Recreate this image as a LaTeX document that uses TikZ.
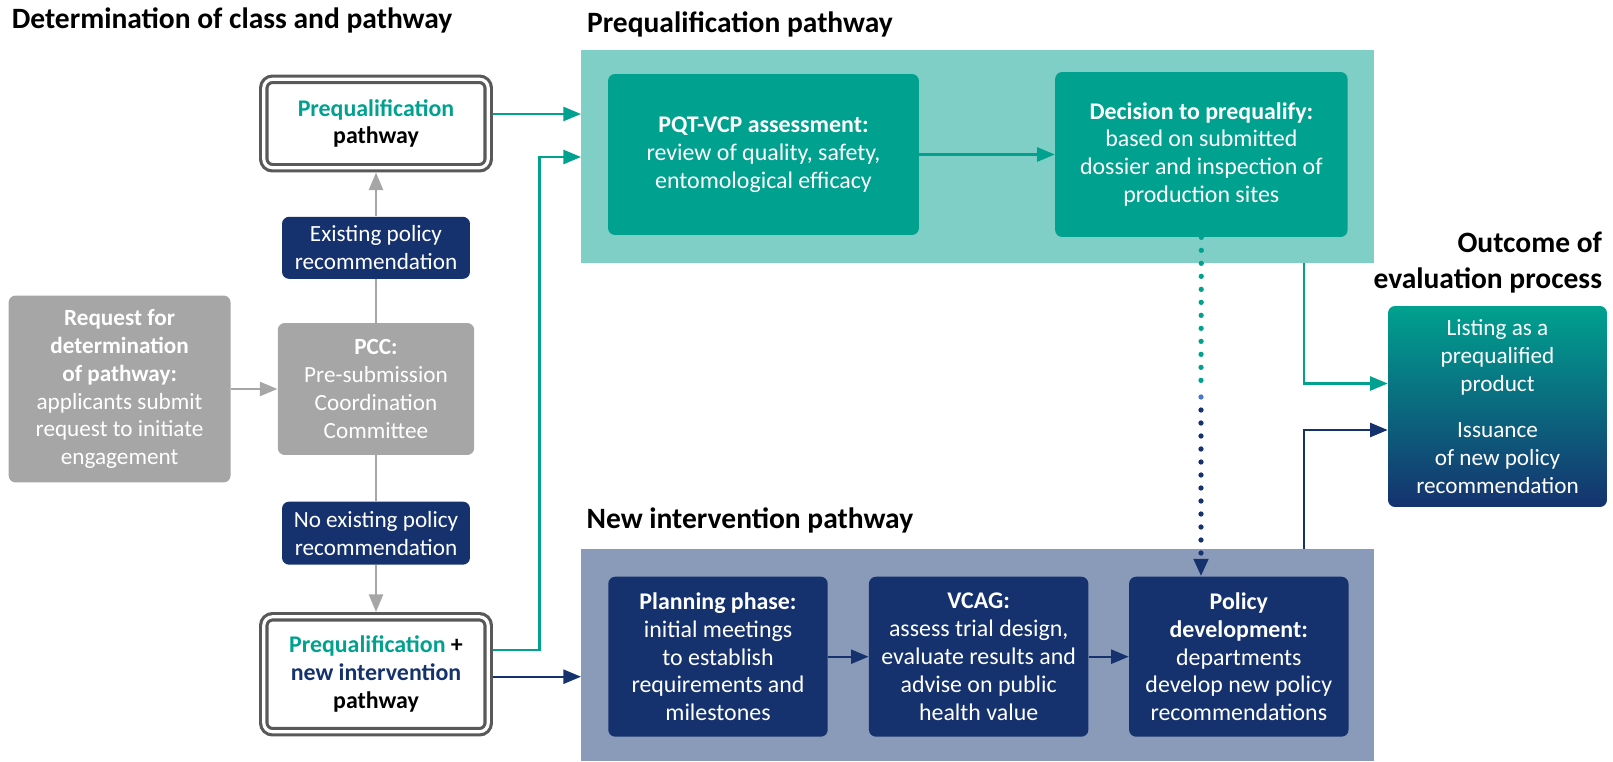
\documentclass[tikz,border=0pt]{standalone}
\usepackage{fontspec}
\setmainfont{Carlito}
\usetikzlibrary{arrows.meta,positioning}
\definecolor{tealdark}{RGB}{0,161,143}
\definecolor{teallight}{RGB}{128,207,198}
\definecolor{navy}{RGB}{21,50,111}
\definecolor{navylight}{RGB}{138,154,185}
\definecolor{midblue}{RGB}{74,120,200}
\definecolor{boxgray}{RGB}{166,166,166}
\definecolor{framegray}{RGB}{89,89,89}

\begin{document}
\begin{tikzpicture}[x=0.02cm,y=-0.02cm,node distance=1cm,
 txt/.style={align=center,font=\fontsize{13.2}{15.9}\selectfont,inner sep=0pt},
 flowbox/.style={txt,rounded corners=4pt,text=white},
 graybox/.style={flowbox,fill=boxgray},
 navybox/.style={flowbox,fill=navy},
 tealbox/.style={flowbox,fill=tealdark},
 stepbox/.style={flowbox,font=\fontsize{13.6}{15.9}\selectfont},
 pathframe/.style={txt,font=\fontsize{13.6}{15.9}\selectfont\bfseries,draw=framegray,line width=1.8pt,
   double=white,double distance=1.8pt,rounded corners=5pt,outer sep=2.7pt,minimum width=4.49cm},
 title/.style={font=\fontsize{16.8}{20.2}\selectfont\bfseries,inner sep=0pt},
 arr/.style={-{Triangle[length=10pt,width=8pt]}},
 rarr/.style={{Triangle[length=10pt,width=8pt]}-},
 grayline/.style={draw=boxgray,line width=1.3pt},
 tealline/.style={draw=tealdark,line width=1.3pt},
 navyline/.style={draw=navy,line width=1.3pt},
 dotline/.style={line width=3pt,line cap=round,dash pattern=on 0pt off 7.4pt}]
 \useasboundingbox (0,0) rectangle (1613,761);

 \node[title,anchor=base west] (t1) at (11.5,28) {Determination of class and pathway};

 \node[graybox,minimum width=3.93cm,minimum height=2.64cm] (pcc) at (376,389)
     {\textbf{PCC:}\\Pre-submission\\Coordination\\Committee};
 \node[graybox,minimum width=4.44cm,minimum height=3.74cm,left=0.93cm of pcc] (req)
     {\textbf{Request for}\\\textbf{determination}\\\textbf{of pathway:}\\applicants submit\\request to initiate\\engagement}
     edge[grayline,arr] (pcc);
 \node[navybox,minimum width=3.76cm,minimum height=1.24cm,above=0.87cm of pcc] (exist)
     {Existing policy\\recommendation}
     edge[grayline] (pcc);
 \node[pathframe,minimum height=1.77cm,above=0.88cm of exist] (pq)
     {\textcolor{tealdark}{Prequalification}\\pathway}
     edge[grayline,rarr] (exist);
 \node[navybox,minimum width=3.76cm,minimum height=1.26cm,below=0.92cm of pcc] (noexist)
     {No existing policy\\recommendation}
     edge[grayline] (pcc);
 \node[pathframe,minimum height=2.3cm,below=0.94cm of noexist] (pqni)
     {\textcolor{tealdark}{Prequalification} +\\\textcolor{navy}{new intervention}\\pathway}
     edge[grayline,rarr] (noexist);

 \node[fill=teallight,minimum width=15.86cm,minimum height=4.26cm] (pqbg) at (977.5,156.5) {};
 \node[title,above right=0.25cm and 0.12cm of pqbg.north west] (t2) {Prequalification pathway};
 \node[stepbox,fill=tealdark,minimum width=6.22cm,minimum height=3.22cm] (pqt) at (763.5,154.5)
     {\textbf{PQT-VCP assessment:}\\review of quality, safety,\\entomological efficacy};
 \node[stepbox,fill=tealdark,minimum width=5.85cm,minimum height=3.3cm,right=2.71cm of pqt] (dec)
     {\textbf{Decision to prequalify:}\\based on submitted\\dossier and inspection of\\production sites}
     edge[tealline,rarr] (pqt);

 \node[fill=navylight,minimum width=15.86cm,minimum height=4.24cm] (nibg) at (977.5,655) {};
 \node[title,above right=0.3cm and 0.11cm of nibg.north west] (t3) {New intervention pathway};
 \node[stepbox,fill=navy,minimum width=4.39cm,minimum height=3.2cm] (plan) at (718,656.7)
     {\textbf{Planning phase:}\\initial meetings\\to establish\\requirements and\\milestones};
 \node[stepbox,fill=navy,minimum width=4.39cm,minimum height=3.2cm,right=0.81cm of plan] (vcag)
     {\textbf{VCAG:}\\assess trial design,\\evaluate results and\\advise on public\\health value}
     edge[navyline,rarr] (plan);
 \node[stepbox,fill=navy,minimum width=4.39cm,minimum height=3.2cm,right=0.8cm of vcag] (pol)
     {\textbf{Policy}\\\textbf{development:}\\departments\\develop new policy\\recommendations}
     edge[navyline,rarr] (vcag);

 \node[flowbox,top color=tealdark,bottom color=navy,minimum width=4.38cm,minimum height=4.02cm] (outc) at (1497.5,406.5)
     {Listing as a\\prequalified\\product\\[0.35cm]Issuance\\of new policy\\recommendation};
 \node[title,align=right,above left=0.25cm and 0.1cm of outc.north east] (t4) {Outcome of\\evaluation process};

 \coordinate (in1) at (581,114);
 \coordinate (in2) at (581,157);
 \coordinate (in3) at (581,676.7);
 \draw[tealline,arr] (pq.east |- in1) -- (in1);
 \draw[tealline,arr] ([yshift=0.48cm]pqni.east) -- ++(0.93cm,0) |- (in2);
 \draw[navyline,arr] (pqni.east |- in3) -- (in3);

 \coordinate (j1) at (1304,0);
 \draw[tealline,arr] (pqbg.south -| j1) |- ([yshift=0.46cm]outc.west);
 \draw[navyline,arr] (nibg.north -| j1) |- ([yshift=-0.47cm]outc.west);

 \coordinate (d1) at (1201,384);
 \coordinate (d2) at (1201,397);
 \coordinate (d3) at (1201,410);
 \draw[tealdark,dotline] (dec.south) -- (d1);
 \fill[midblue] (d2) circle (1.5pt);
 \draw[navy,dotline,arr] (d3) -- (d3 |- pol.north);
\end{tikzpicture}
\end{document}
